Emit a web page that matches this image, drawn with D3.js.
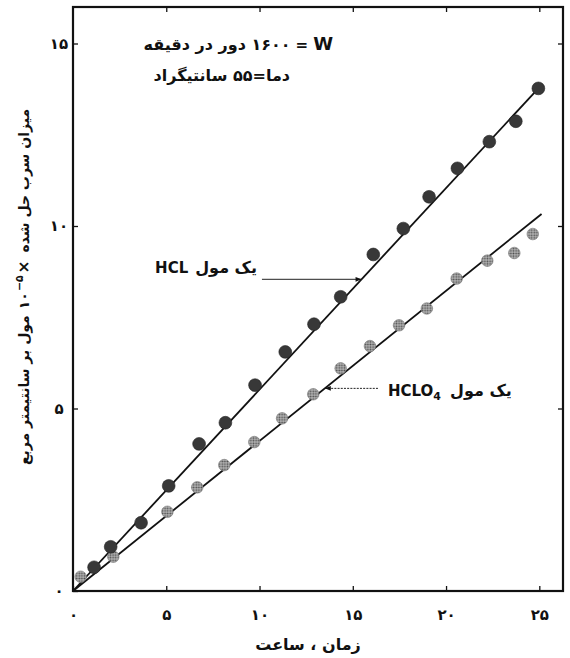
<!DOCTYPE html>
<html><head><meta charset="utf-8">
<script src="https://cdn.jsdelivr.net/npm/d3@7"></script>
<style>
body{margin:0;background:#fff}
svg{display:block}
text{font-family:"DejaVu Sans",sans-serif;font-weight:bold;fill:#111}
</style>
</head><body>
<svg id="c" width="570" height="658"></svg>
<script>
// ---- data ----
const hclTime  = [1.13, 2.02, 3.65, 5.13, 6.76, 8.17, 9.76, 11.38, 12.92, 14.35, 16.10, 17.71, 19.09, 20.61, 22.32, 23.74, 24.95];
const hclValue = [0.65, 1.21, 1.87, 2.88, 4.03, 4.61, 5.64, 6.55, 7.31, 8.06, 9.22, 9.93, 10.80, 11.58, 12.31, 12.87, 13.77];
const hclo4Time  = [0.41, 2.16, 5.06, 6.66, 8.11, 9.72, 11.21, 12.88, 14.35, 15.92, 17.48, 18.97, 20.57, 22.21, 23.66, 24.65];
const hclo4Value = [0.39, 0.94, 2.17, 2.84, 3.45, 4.08, 4.73, 5.39, 6.10, 6.71, 7.28, 7.74, 8.56, 9.05, 9.26, 9.78];
const hclFitTime = [0, 25];
const hclFitValue = [0, 13.8];
const hclo4FitTime = [0, 25.12];
const hclo4FitValue = [0, 10.33];
const timeTicks = [0, 5, 10, 15, 20, 25];
const timeTickLabels = ["۰", "۵", "۱۰", "۱۵", "۲۰", "۲۵"];
const valueTicks = [0, 5, 10, 15];
const valueTickLabels = ["۰", "۵", "۱۰", "۱۵"];
const xTitle = "زمان ، ساعت";
const yTitleA = "میزان سرب حل شده";
const yTitleB = "مول بر سانتیمتر مربع";
const noteSpeed = "۱۶۰۰ دور در دقیقه";
const noteTemp = "دما=۵۵ سانتیگراد";
const seriesHcl = "HCL";
const seriesHclo4 = "HCLO";
const moleText = "یک مول";

// ---- chart ----
const W = 570, H = 658;
const svg = d3.select("#c");
svg.append("rect").attr("width", W).attr("height", H).attr("fill", "#fff");

const defs = svg.append("defs");
const pat = defs.append("pattern").attr("id", "stip").attr("patternUnits", "userSpaceOnUse")
  .attr("width", 2.6).attr("height", 2.6);
pat.append("rect").attr("width", 2.6).attr("height", 2.6).attr("fill", "#b4b4b4");
pat.append("circle").attr("cx", 1.3).attr("cy", 1.3).attr("r", 0.9).attr("fill", "#505050");
defs.append("marker").attr("id", "ah").attr("viewBox", "0 0 10 10").attr("refX", 10).attr("refY", 5)
  .attr("markerWidth", 8).attr("markerHeight", 6).attr("markerUnits", "userSpaceOnUse").attr("orient", "auto")
  .append("path").attr("d", "M0,1 L10,5 L0,9 Z").attr("fill", "#111");

const x = d3.scaleLinear().domain([0, 26.27]).range([73, 563]);
const y = d3.scaleLinear().domain([0, 16]).range([591, 7]);

// frame
svg.append("rect").attr("x", x(0)).attr("y", y(16)).attr("width", x(26.27) - x(0)).attr("height", y(0) - y(16))
  .attr("fill", "none").attr("stroke", "#111").attr("stroke-width", 2.2);

// axes (inward ticks on all sides)
const fmtX = d => timeTickLabels[timeTicks.indexOf(d)];
const fmtY = d => valueTickLabels[valueTicks.indexOf(d)];
const ax = svg.append("g").attr("transform", `translate(0,${y(0)})`)
  .call(d3.axisBottom(x).tickValues(timeTicks).tickFormat(fmtX).tickSizeInner(-5).tickSizeOuter(0).tickPadding(18));
const ay = svg.append("g").attr("transform", `translate(${x(0)},0)`)
  .call(d3.axisLeft(y).tickValues(valueTicks).tickFormat(fmtY).tickSizeInner(-5).tickSizeOuter(0).tickPadding(14));
svg.append("g").attr("transform", `translate(0,${y(16)})`)
  .call(d3.axisTop(x).tickValues(timeTicks.slice(1)).tickFormat("").tickSizeInner(-5).tickSizeOuter(0));
svg.append("g").attr("transform", `translate(${x(26.27)},0)`)
  .call(d3.axisRight(y).tickValues(valueTicks.slice(1)).tickFormat("").tickSizeInner(-5).tickSizeOuter(0));
svg.selectAll(".domain").remove();
svg.selectAll(".tick line").attr("stroke", "#111").attr("stroke-width", 1.3);
svg.selectAll(".tick text").style("font-size", "15px").style("font-family", "DejaVu Sans").style("font-weight", "bold").attr("fill", "#111");
ay.selectAll(".tick text").attr("text-anchor", "middle").attr("x", -14);

// fit lines
const line = d3.line().x(d => x(d[0])).y(d => y(d[1]));
svg.append("path").datum(d3.zip(hclFitTime, hclFitValue)).attr("d", line)
  .attr("fill", "none").attr("stroke", "#111").attr("stroke-width", 1.8);
svg.append("path").datum(d3.zip(hclo4FitTime, hclo4FitValue)).attr("d", line)
  .attr("fill", "none").attr("stroke", "#111").attr("stroke-width", 1.8);

// points
svg.append("g").selectAll("circle").data(d3.zip(hclo4Time, hclo4Value)).join("circle")
  .attr("cx", d => x(d[0])).attr("cy", d => y(d[1])).attr("r", 5.8)
  .attr("fill", "url(#stip)").attr("stroke", "#777").attr("stroke-width", 0.6);
svg.append("g").selectAll("circle").data(d3.zip(hclTime, hclValue)).join("circle")
  .attr("cx", d => x(d[0])).attr("cy", d => y(d[1])).attr("r", 6.4)
  .attr("fill", "#383838").attr("stroke", "#222").attr("stroke-width", 0.6);

// text row helper: lays segments left to right
function row(parent, segs, ax0, by, align) {
  const g = parent.append("g");
  const items = segs.map(s => {
    const t = g.append("text").attr("y", by + (s.dy || 0)).style("font-size", (s.size || 14) + "px")
      .attr("text-anchor", "middle").text(s.text);
    if (s.dir === "rtl") t.attr("direction", "rtl");
    return {t, w: t.node().getComputedTextLength(), gap: s.gap || 0};
  });
  const total = d3.sum(items, d => d.w + d.gap);
  let cur = align === "end" ? ax0 - total : align === "middle" ? ax0 - total / 2 : ax0;
  items.forEach(it => { cur += it.gap; it.t.attr("x", cur + it.w / 2); cur += it.w; });
  return g;
}

// notes
row(svg, [{text: noteSpeed, dir: "rtl", size: 16}, {text: "=", gap: 5, size: 15}, {text: "W", gap: 5, size: 18}], 333, 50, "end");
row(svg, [{text: noteTemp, dir: "rtl", size: 16}], 290, 81, "end");

// HCL label + leader
row(svg, [{text: seriesHcl, size: 15}, {text: moleText, dir: "rtl", size: 16, gap: 7}], 257, 273, "end");
const hclTip = 15.47;
svg.append("line").attr("x1", x(10.13)).attr("y1", y(hclTip * hclFitValue[1] / hclFitTime[1]))
  .attr("x2", x(hclTip)).attr("y2", y(hclTip * hclFitValue[1] / hclFitTime[1]))
  .attr("stroke", "#222").attr("stroke-width", 1).attr("marker-end", "url(#ah)");

// HCLO4 label + leader
row(svg, [{text: seriesHclo4, size: 15}, {text: "4", size: 11, dy: 4}, {text: moleText, dir: "rtl", size: 16, gap: 9}], 388, 396, "start");
const hclo4Tip = 13.5;
svg.append("line").attr("x1", x(16.35)).attr("y1", y(hclo4Tip * hclo4FitValue[1] / hclo4FitTime[1]))
  .attr("x2", x(hclo4Tip)).attr("y2", y(hclo4Tip * hclo4FitValue[1] / hclo4FitTime[1]))
  .attr("stroke", "#222").attr("stroke-width", 1).attr("stroke-dasharray", "2,1.2").attr("marker-end", "url(#ah)");

// axis titles
row(svg, [{text: xTitle, dir: "rtl", size: 16}], 308, 650, "middle");
const yt = svg.append("g").attr("transform", "translate(24,287) rotate(-90)");
row(yt, [
  {text: yTitleB, dir: "rtl", size: 14},
  {text: "۱۰", size: 14, gap: 6},
  {text: "−۵", size: 11, dy: -6, gap: 1},
  {text: "×", size: 15, gap: 2},
  {text: yTitleA, dir: "rtl", size: 14, gap: 8}
], 0, 5, "middle");
</script>
</body></html>
